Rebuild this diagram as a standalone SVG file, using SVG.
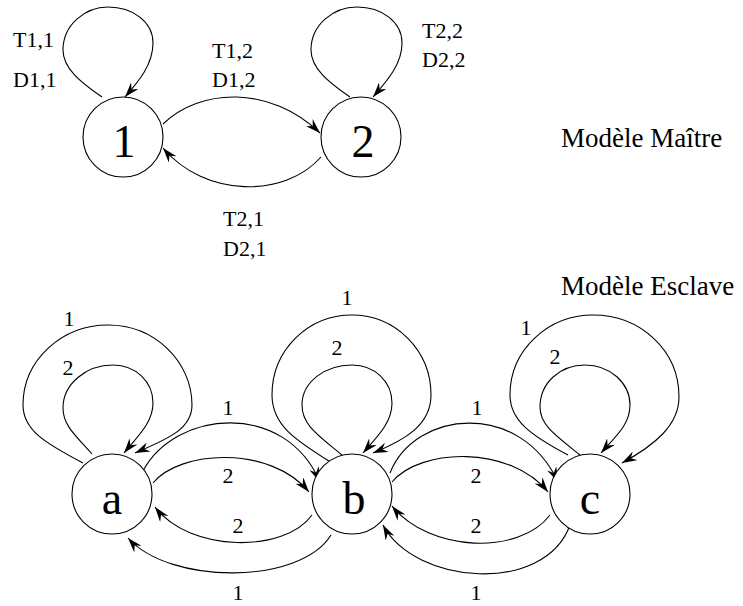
<svg xmlns="http://www.w3.org/2000/svg" width="743" height="606" viewBox="0 0 743 606">
<style>
.node{fill:#fff;stroke:#000;stroke-width:1.1}
.nl{font-family:"Liberation Serif","Times New Roman",serif;font-size:46px;text-anchor:middle;fill:#000}
.e{fill:none;stroke:#000;stroke-width:1.1;marker-end:url(#arr)}
.lb{font-family:"Liberation Serif","Times New Roman",serif;font-size:22px;fill:#000}
.lc{font-family:"Liberation Serif","Times New Roman",serif;font-size:22px;fill:#000;text-anchor:middle}
.tt{font-family:"Liberation Serif","Times New Roman",serif;font-size:27px;fill:#000}
</style>
<defs>
<marker id="arr" viewBox="0 0 15 10" refX="15" refY="5" markerWidth="15" markerHeight="10" markerUnits="userSpaceOnUse" orient="auto">
<path d="M0,0 L15,5 L0,10 L5,5 z" fill="#000"/>
</marker>
</defs>
<rect width="743" height="606" fill="#fff"/>

<g id="connectors">
<path class="e" d="M102,97 C80,82 63,68 63,50 C63,25 85,7 108,7 C133,7 153,22 153,43 C153,65 138,82 125,97"/>
<path class="e" d="M350,97 C328,82 311,68 311,50 C311,25 333,7 357,7 C382,7 402,22 402,43 C402,65 386,82 373,97"/>
<path class="e" d="M163,124 C200,88 270,85 320,133"/>
<path class="e" d="M321,157 C285,198 205,198 163,148"/>
<path class="e" d="M83,463 C45,443 23,430 23,405 C23,360 62,325 108,325 C155,325 192,362 192,405 C192,430 165,440 135,453"/>
<path class="e" d="M92,454 C75,435 63,425 63,408 C63,384 86,365 113,365 C136,365 153,382 153,403 C153,423 137,437 124,453"/>
<path class="e" d="M332,463 C295,440 272,425 272,395 C272,350 308,315 352,315 C395,315 431,350 431,395 C431,425 405,440 373,453"/>
<path class="e" d="M342,455 C318,435 302,425 302,405 C302,382 325,365 352,365 C375,365 392,382 392,403 C392,423 377,437 363,453"/>
<path class="e" d="M568,455 C530,435 510,420 510,395 C510,350 548,315 593,315 C640,315 679,350 679,397 C679,425 655,445 622,463"/>
<path class="e" d="M580,455 C555,435 540,425 540,407 C540,383 560,365 585,365 C610,365 630,383 630,405 C630,425 615,437 601,453"/>
<path class="e" d="M143,471 C175,410 285,400 320,482"/>
<path class="e" d="M153,483 C180,450 270,445 309,492"/>
<path class="e" d="M312,515 C285,553 190,553 155,507"/>
<path class="e" d="M331,535 C300,585 170,585 128,538"/>
<path class="e" d="M390,473 C415,410 520,400 558,482"/>
<path class="e" d="M392,482 C420,448 510,445 548,492"/>
<path class="e" d="M550,515 C520,555 430,553 392,506"/>
<path class="e" d="M570,525 C545,595 415,585 383,525"/>
</g>

<g id="labels">
<text class="lb" x="13" y="47">T1,1</text>
<text class="lb" x="13" y="87">D1,1</text>
<text class="lb" x="212" y="58">T1,2</text>
<text class="lb" x="212" y="87">D1,2</text>
<text class="lb" x="422" y="38">T2,2</text>
<text class="lb" x="422" y="67">D2,2</text>
<text class="lb" x="223" y="226">T2,1</text>
<text class="lb" x="223" y="256">D2,1</text>
<text class="tt" x="561" y="147">Modèle Maître</text>
<text class="tt" x="561" y="295">Modèle Esclave</text>
<text class="lc" x="69" y="326">1</text>
<text class="lc" x="68" y="375">2</text>
<text class="lc" x="228" y="415">1</text>
<text class="lc" x="228" y="483">2</text>
<text class="lc" x="238" y="533">2</text>
<text class="lc" x="238" y="600">1</text>
<text class="lc" x="347" y="305">1</text>
<text class="lc" x="337" y="355">2</text>
<text class="lc" x="477" y="415">1</text>
<text class="lc" x="476" y="483">2</text>
<text class="lc" x="476" y="533">2</text>
<text class="lc" x="476" y="600">1</text>
<text class="lc" x="526" y="335">1</text>
<text class="lc" x="555" y="364">2</text>
</g>

<g id="node-1"><circle class="node" cx="123" cy="137" r="40"/><text class="nl" x="124" y="157">1</text></g>
<g id="node-2"><circle class="node" cx="361" cy="137" r="40"/><text class="nl" x="363" y="157">2</text></g>
<g id="node-a"><circle class="node" cx="112" cy="494" r="40"/><text class="nl" x="112" y="514">a</text></g>
<g id="node-b"><circle class="node" cx="352" cy="494" r="40"/><text class="nl" x="354" y="514">b</text></g>
<g id="node-c"><circle class="node" cx="590" cy="494" r="40"/><text class="nl" x="590" y="514">c</text></g>
</svg>
